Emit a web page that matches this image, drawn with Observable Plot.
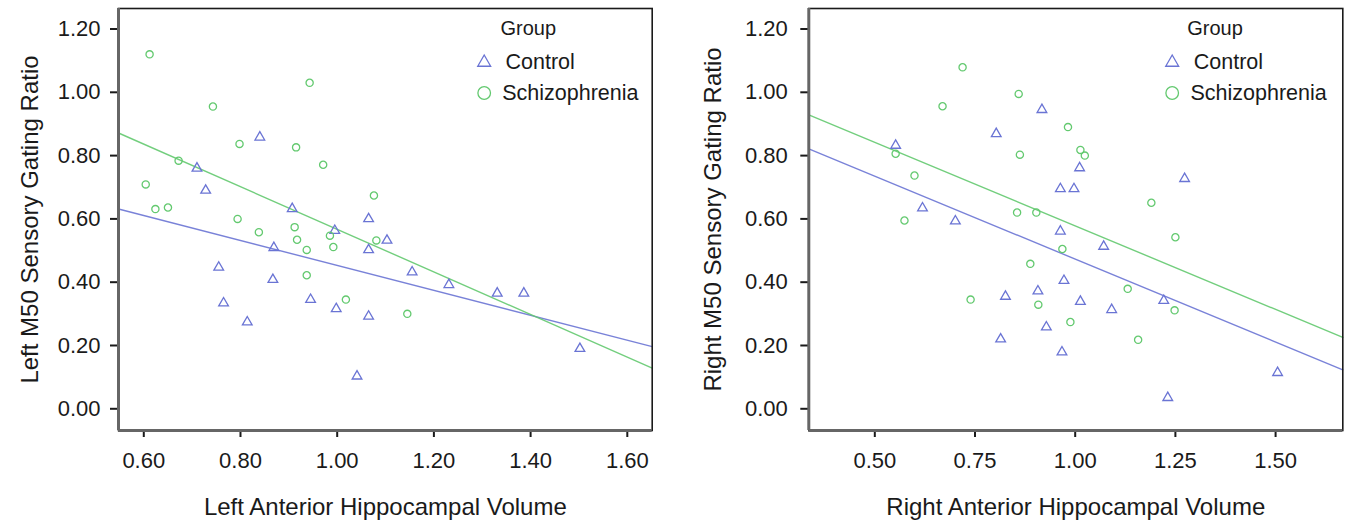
<!DOCTYPE html>
<html>
<head>
<meta charset="utf-8">
<script src="https://cdn.jsdelivr.net/npm/d3@7"></script>
<script src="https://cdn.jsdelivr.net/npm/@observablehq/plot@0.6"></script>
<style>
  body { margin: 0; background: #fff; }
  #wrap { display: flex; width: 1351px; height: 523px; overflow: hidden; }
  #wrap svg { display: block; }
</style>
</head>
<body>
<div id="wrap"></div>
<script>
// ---------- data ----------
const groups = ["Control", "Schizophrenia"];
const groupColors = ["#6a74d4", "#63c96f"];

const leftControlX = [0.840, 0.710, 0.728, 0.907, 0.995, 1.065, 1.103, 1.065, 0.869, 0.755, 0.867, 0.765, 0.945, 0.998, 1.065, 0.814, 1.041, 1.155, 1.231, 1.331, 1.386, 1.502];
const leftControlY = [0.858, 0.760, 0.690, 0.632, 0.563, 0.600, 0.532, 0.502, 0.509, 0.447, 0.408, 0.334, 0.345, 0.316, 0.292, 0.274, 0.103, 0.432, 0.392, 0.365, 0.365, 0.190];
const leftSchizX = [0.612, 0.943, 0.743, 0.798, 0.915, 0.971, 0.672, 1.076, 0.604, 0.624, 0.650, 0.794, 0.838, 0.912, 0.917, 0.985, 0.992, 0.937, 1.081, 0.937, 1.018, 1.145];
const leftSchizY = [1.120, 1.030, 0.955, 0.837, 0.826, 0.771, 0.784, 0.674, 0.709, 0.631, 0.636, 0.600, 0.558, 0.574, 0.534, 0.547, 0.511, 0.502, 0.532, 0.422, 0.345, 0.300];

const rightControlX = [0.552, 0.917, 0.803, 0.963, 0.619, 0.701, 0.963, 1.011, 0.997, 1.273, 1.071, 0.972, 0.826, 0.907, 0.928, 0.814, 0.967, 1.013, 1.091, 1.221, 1.231, 1.505];
const rightControlY = [0.832, 0.945, 0.869, 0.695, 0.634, 0.593, 0.561, 0.761, 0.695, 0.727, 0.513, 0.405, 0.355, 0.372, 0.258, 0.220, 0.179, 0.339, 0.313, 0.342, 0.035, 0.114];
const rightSchizX = [0.719, 0.859, 0.669, 0.982, 0.862, 0.552, 0.599, 0.574, 0.855, 0.903, 0.968, 1.013, 1.024, 1.190, 1.250, 0.888, 0.739, 0.908, 0.988, 1.131, 1.248, 1.157];
const rightSchizY = [1.079, 0.995, 0.956, 0.890, 0.803, 0.806, 0.737, 0.595, 0.620, 0.620, 0.505, 0.818, 0.800, 0.651, 0.542, 0.458, 0.345, 0.329, 0.274, 0.379, 0.311, 0.218];

// fit lines (intercept, slope) per group
const leftFitIntercept = [0.847, 1.240];
const leftFitSlope = [-0.394, -0.673];
const rightFitIntercept = [0.997, 1.106];
const rightFitSlope = [-0.524, -0.528];

const yTicks = [0, 0.2, 0.4, 0.6, 0.8, 1.0, 1.2];
const leftXTicks = [0.6, 0.8, 1.0, 1.2, 1.4, 1.6];
const rightXTicks = [0.5, 0.75, 1.0, 1.25, 1.5];

const leftXTitle = "Left Anterior Hippocampal Volume";
const leftYTitle = "Left M50 Sensory Gating Ratio";
const rightXTitle = "Right Anterior Hippocampal Volume";
const rightYTitle = "Right M50 Sensory Gating Ratio";
const legendTitle = "Group";

// ---------- build ----------
function rows(xs, ys, g) { return xs.map((x, i) => ({x, y: ys[i], group: g})); }

const FONT = "'Liberation Sans', Arial, Helvetica, sans-serif";
const INK = "#1a1a1a";

function panel(cfg) {
  const pts = [
    ...rows(cfg.cx, cfg.cy, groups[0]),
    ...rows(cfg.sx, cfg.sy, groups[1])
  ];
  const fit = groups.flatMap((g, i) => cfg.xDomain.map(x => ({x, y: cfg.b0[i] + cfg.b1[i] * x, group: g})));
  const L = cfg.legend;
  return Plot.plot({
    width: cfg.width,
    height: 523,
    marginLeft: cfg.ml,
    marginRight: cfg.mr,
    marginTop: 8,
    marginBottom: 93,
    style: {fontFamily: FONT, color: INK, background: "#fff", overflow: "visible"},
    x: {domain: cfg.xDomain},
    y: {domain: cfg.yDomain},
    color: {domain: groups, range: groupColors},
    symbol: {domain: groups, range: ["triangle", "circle"]},
    marks: [
      Plot.line(fit, {x: "x", y: "y", z: "group", stroke: "group", strokeWidth: 1.4, strokeOpacity: 0.9}),
      Plot.dot(pts, {x: "x", y: "y", symbol: "group", stroke: "group", r: 3.6, strokeWidth: 1.3}),
      Plot.axisY({ticks: yTicks, tickFormat: d => d.toFixed(2), tickSize: 8, tickPadding: cfg.yPad, fontSize: 22, strokeWidth: 2, label: null}),
      Plot.axisX({ticks: cfg.xTicks, tickFormat: d => d.toFixed(2), tickSize: 7, tickPadding: 15, fontSize: 22, strokeWidth: 2, label: null}),
      Plot.frame({stroke: INK, strokeWidth: 1.6}),
      Plot.ruleX([cfg.xDomain[0]], {stroke: "#666", strokeWidth: 3}),
      Plot.ruleY([cfg.yDomain[0]], {stroke: "#666", strokeWidth: 3}),
      Plot.text([cfg.xTitle], {frameAnchor: "bottom", dy: 77, fontSize: 24, fill: INK, textAnchor: "middle", lineAnchor: "middle"}),
      Plot.text([cfg.yTitle], {frameAnchor: "left", dx: -cfg.yTitleOff, rotate: -90, fontSize: 24, fill: INK, textAnchor: "middle", lineAnchor: "middle"}),
      // legend
      Plot.text([legendTitle], {frameAnchor: "top-right", dx: L.gx, dy: 20, textAnchor: "start", lineAnchor: "middle", fontSize: 20, fill: INK}),
      Plot.dot([groups[0]], {frameAnchor: "top-right", dx: L.sx, dy: 54, symbol: d => d, stroke: d => d, r: 4.8, strokeWidth: 1.3}),
      Plot.text([groups[0]], {frameAnchor: "top-right", dx: L.cx, dy: 54, textAnchor: "start", lineAnchor: "middle", fontSize: 21.5, fill: INK}),
      Plot.dot([groups[1]], {frameAnchor: "top-right", dx: L.sx, dy: 84.5, symbol: d => d, stroke: d => d, r: 6.3, strokeWidth: 1.3}),
      Plot.text([groups[1]], {frameAnchor: "top-right", dx: L.tx, dy: 84.5, textAnchor: "start", lineAnchor: "middle", fontSize: 21.5, fill: INK})
    ]
  });
}

const wrap = document.getElementById("wrap");
wrap.appendChild(panel({
  width: 675, ml: 118, mr: 23.3, yPad: 10, yTitleOff: 88,
  xDomain: [0.5477, 1.6515], yDomain: [-0.0686, 1.2648],
  cx: leftControlX, cy: leftControlY, sx: leftSchizX, sy: leftSchizY,
  b0: leftFitIntercept, b1: leftFitSlope, xTicks: leftXTicks,
  xTitle: leftXTitle, yTitle: leftYTitle,
  legend: {gx: -151.7, sx: -168, cx: -146.7, tx: -150}
}));
wrap.appendChild(panel({
  width: 676, ml: 133.3, mr: 8.7, yPad: 13, yTitleOff: 95,
  xDomain: [0.3353, 1.6677], yDomain: [-0.0686, 1.2648],
  cx: rightControlX, cy: rightControlY, sx: rightSchizX, sy: rightSchizY,
  b0: rightFitIntercept, b1: rightFitSlope, xTicks: rightXTicks,
  xTitle: rightXTitle, yTitle: rightYTitle,
  legend: {gx: -155.6, sx: -170.6, cx: -149, tx: -152.3}
}));
</script>
</body>
</html>
